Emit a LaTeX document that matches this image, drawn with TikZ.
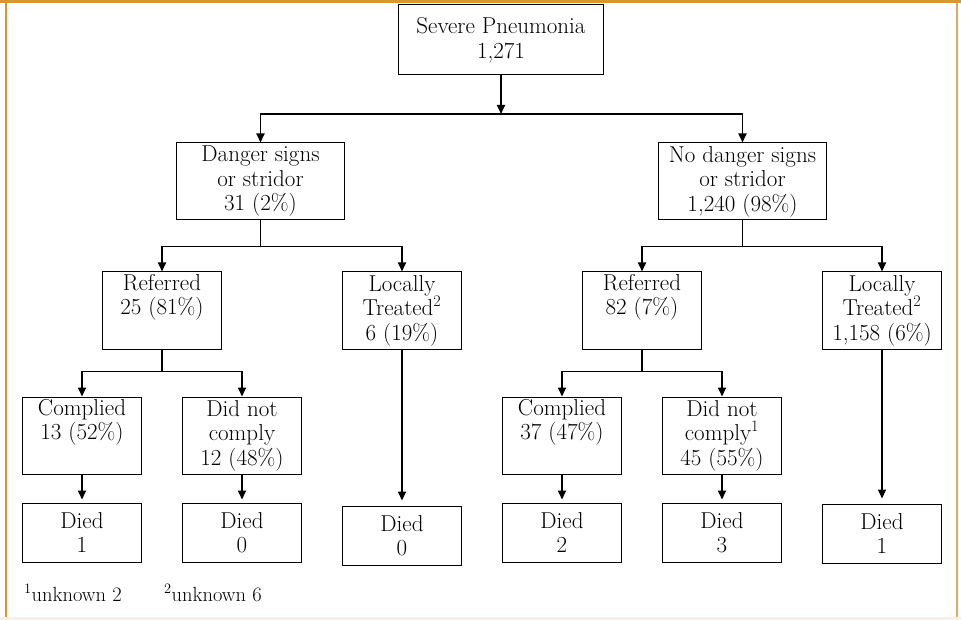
\documentclass[tikz,border=0pt]{standalone}
\usetikzlibrary{arrows.meta,calc}
\definecolor{frameor}{HTML}{D9962E}
\definecolor{frameor2}{HTML}{E0AA62}
\definecolor{stripbg}{HTML}{F9F0E6}
\begin{document}
\begin{tikzpicture}[x=1pt,y=-1pt,
  box/.style={draw,line width=1pt,minimum width=119pt,minimum height=77pt,align=center,inner sep=2pt,font=\fontsize{23}{24.5}\selectfont},
  wide/.style={box,minimum width=168pt},
  died/.style={box,minimum height=59pt},
  foot/.style={anchor=base west,inner sep=0pt,font=\fontsize{20.5}{24}\selectfont},
  ln/.style={line width=1.8pt},
  arr/.style={ln,-{Triangle[length=9pt,width=8pt]}},
  darr/.style={arr,shorten >=3pt}
]
\useasboundingbox (0,0) rectangle (961,620);
% frame
\fill[stripbg] (0,617) rectangle (961,620);
\fill[frameor] (0,0) rectangle (961,3);
\draw[frameor, line width=2pt] (6,3) -- (6,617);
\draw[frameor2, line width=2pt] (957,3) -- (957,617);

% nodes
\node[box,minimum width=205pt,minimum height=70pt] (top) at (501,40) {Severe Pneumonia\\1,271};
\node[wide] (dng) at (260.5,181.5) {Danger signs\\or stridor\\31 (2\%)};
\node[wide] (ndg) at (742.5,181.5) {No danger signs\\or stridor\\1,240 (98\%)};
\node[box] (refL) at (162,310.5) {Referred\\25 (81\%)\\\strut};
\node[box] (locL) at (402,310.5) {Locally\\Treated\textsuperscript{2}\\6 (19\%)};
\node[box] (refR) at (642,310.5) {Referred\\82 (7\%)\\\strut};
\node[box] (locR) at (882,310.5) {Locally\\Treated\textsuperscript{2}\\1,158 (6\%)};
\node[box] (cmpL) at (82,435.5) {Complied\\13 (52\%)\\\strut};
\node[box] (dncL) at (242,435.5) {Did not\\comply\\12 (48\%)};
\node[box] (cmpR) at (562,435.5) {Complied\\37 (47\%)\\\strut};
\node[box] (dncR) at (722,435.5) {Did not\\comply\textsuperscript{1}\\45 (55\%)};
\node[died] (d1) at (82,532.5) {Died\\1};
\node[died] (d2) at (242,532.5) {Died\\0};
\node[died] (d3) at (402,535.5) {Died\\0};
\node[died] (d4) at (562,532.5) {Died\\2};
\node[died] (d5) at (722,532.5) {Died\\3};
\node[died] (d6) at (882,533.5) {Died\\1};

\node[foot] (fn1) at (24,601) {\textsuperscript{1}unknown 2};
\node[foot] (fn2) at (164,601) {\textsuperscript{2}unknown 6};

% connectors
\coordinate (j0) at (501,114);
\draw[arr] (top.south) -- (j0);
\draw[arr] (j0) -| (dng.north);
\draw[arr] (j0) -| (ndg.north);

\coordinate (j1) at ($(dng.south)+(0,26)$);
\draw[ln] (dng.south) -- (j1);
\draw[arr] (j1) -| (refL.north);
\draw[arr] (j1) -| (locL.north);

\coordinate (j2) at ($(ndg.south)+(0,26)$);
\draw[ln] (ndg.south) -- (j2);
\draw[arr] (j2) -| (refR.north);
\draw[arr] (j2) -| (locR.north);

\coordinate (j3) at ($(refL.south)+(0,22)$);
\draw[ln] (refL.south) -- (j3);
\draw[arr] (j3) -| (cmpL.north);
\draw[arr] (j3) -| (dncL.north);

\coordinate (j4) at ($(refR.south)+(0,22)$);
\draw[ln] (refR.south) -- (j4);
\draw[arr] (j4) -| (cmpR.north);
\draw[arr] (j4) -| (dncR.north);

\draw[darr] (cmpL.south) -- (d1.north);
\draw[darr] (dncL.south) -- (d2.north);
\draw[arr,shorten >=5pt] (locL.south) -- (d3.north);
\draw[darr] (cmpR.south) -- (d4.north);
\draw[darr] (dncR.south) -- (d5.north);
\draw[arr,shorten >=5pt] (locR.south) -- (d6.north);
\end{tikzpicture}
\end{document}
